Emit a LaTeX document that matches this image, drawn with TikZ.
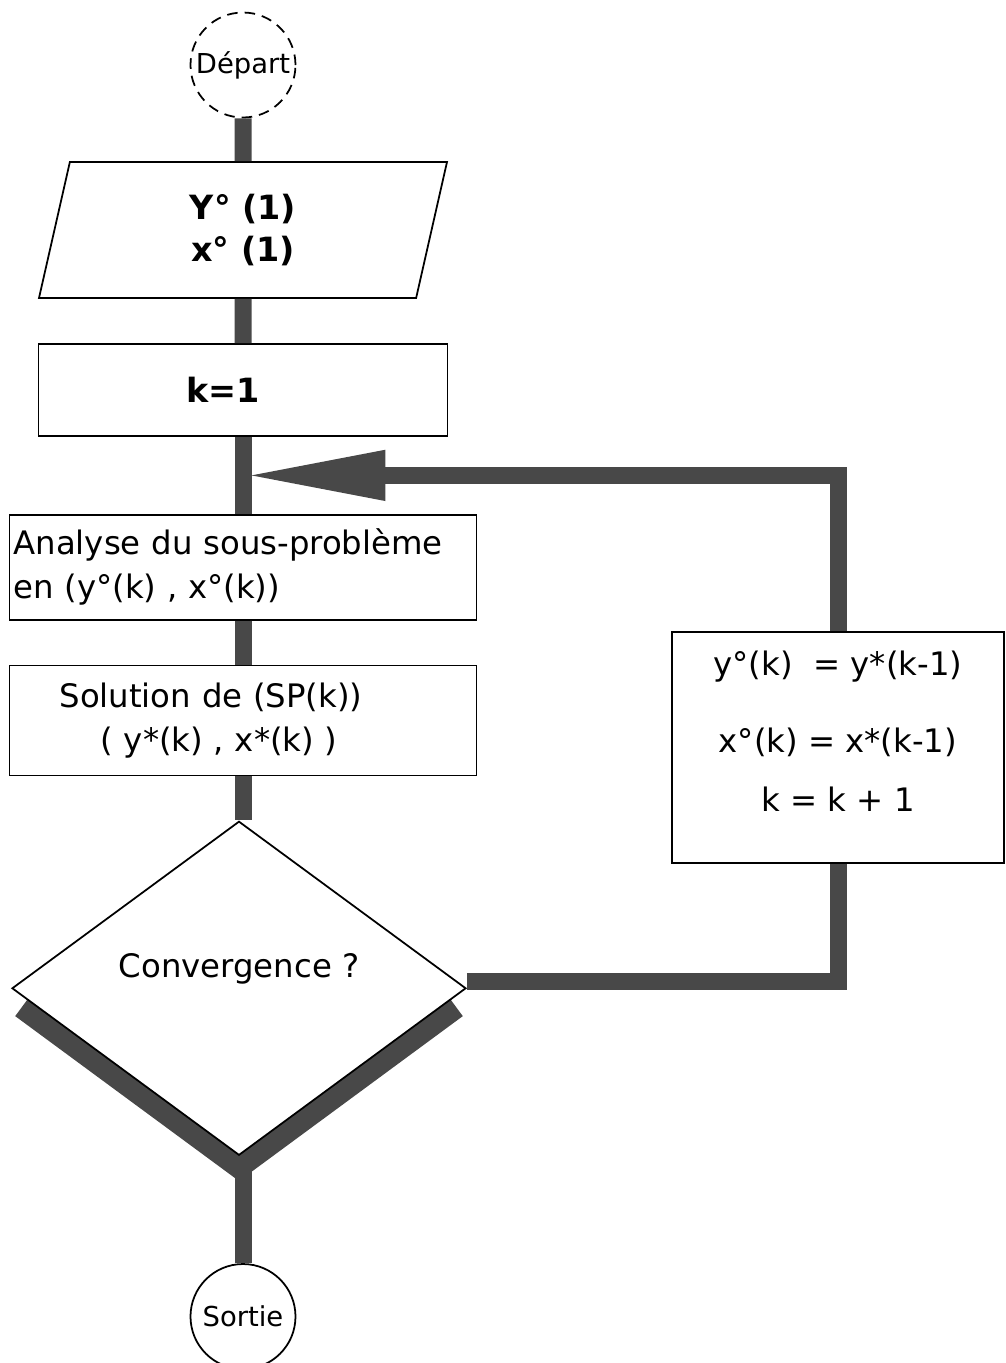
\documentclass[tikz,border=0pt]{standalone}
\usepackage{fontspec}
\setmainfont{DejaVu Sans}
\usetikzlibrary{positioning,arrows.meta,shapes.geometric,calc,backgrounds}
\definecolor{bargray}{RGB}{72,72,72}

\begin{document}
\begin{tikzpicture}[
    x=0.1mm, y=-0.1mm,
    node distance=4.4mm,
    every node/.style={font=\fontsize{9.2}{12.6}\selectfont},
    box/.style={
        rectangle,
        draw=black,
        line width=0.5pt,
        fill=white
    },
    term/.style={
        circle,
        draw=black,
        line width=0.5pt,
        fill=white,
        minimum size=10.5mm,
        inner sep=0pt,
        font=\fontsize{7.8}{9}\selectfont
    },
    boldtext/.style={
        font=\fontsize{9.5}{11.9}\selectfont\bfseries
    },
    bar/.style={
        line width=1.7mm,
        draw=bargray
    }
]

% Page frame
\useasboundingbox (0,0) rectangle (1006,1363);

% Start and initial values
\node[term, densely dashed] (depart) at (243,65) {Départ};
\node[box, trapezium, trapezium left angle=72, trapezium right angle=108, trapezium stretches body, minimum width=40.8mm, minimum height=13.6mm, align=center, boldtext] (init) at (243,230) {Y° (1)\\x° (1)};
\node[box, boldtext, minimum width=40.9mm, minimum height=9.2mm] (kinit) at (243,390) {k=1\hspace*{4mm}};

% Iteration
\node[box, below=7.7mm of kinit, minimum width=46.7mm, minimum height=10.5mm, text width=45.9mm, inner xsep=0.4mm, align=left] (analyse) {Analyse du sous-problème\\en (y°(k) , x°(k))};
\node[box, below=of analyse, minimum width=46.7mm, minimum height=11mm, text width=45.9mm, inner xsep=0.4mm, align=left] (solution) {\hspace*{4.6mm}Solution de (SP(k))\\\hspace*{8.7mm}( y*(k) , x*(k) )};
\node[box, diamond, below=of solution, xshift=-0.4mm, minimum width=45.4mm, minimum height=33.4mm, inner sep=0pt] (conv) {\raisebox{4.6mm}{Convergence ?}};
\node[term, below=10.7mm of conv, xshift=0.4mm] (sortie) {Sortie};

% Update box on the right
\node[box, minimum width=33.2mm, minimum height=23.1mm, align=center, font=\fontsize{9.2}{16.8}\selectfont] (maj) at (838,747.5) {y°(k)~ = y*(k-1)\\[5.1pt]x°(k) = x*(k-1)\\k = k + 1\rule[-3.2mm]{0pt}{3.2mm}};

% Main flow
\draw[bar] (depart) -- (init);
\draw[bar] (init) -- (kinit);
\draw[bar] (kinit) -- (analyse);
\draw[bar] (analyse) -- (solution);
\draw[bar] (solution) -- (solution |- conv.north);

% Exit branch, behind the decision box
\begin{pgfonlayer}{background}
\draw[bar, line width=4mm] ($(conv.west)!0.07!(conv.south)$) -- (conv.south) -- ($(conv.east)!0.07!(conv.south)$);
\draw[bar] (sortie |- conv.south) -- (sortie);
\end{pgfonlayer}

% Loop back
\coordinate (loopin) at ($(kinit.south)!0.5!(analyse.north)+(0.5,0)$);
\draw[bar, -{Triangle[length=14.2mm, width=4.6mm]}] (maj.north) |- (loopin);
\draw[bar] ([yshift=0.7mm]conv.east) -| (maj.south);

\end{tikzpicture}
\end{document}
